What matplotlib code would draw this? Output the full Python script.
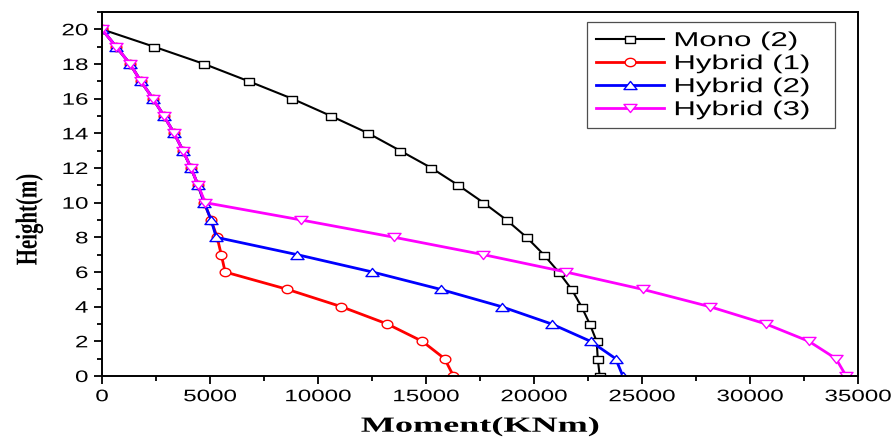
import matplotlib
matplotlib.use("Agg")
import matplotlib.pyplot as plt
import numpy as np
from matplotlib.patheffects import AbstractPathEffect
from matplotlib.path import Path
from matplotlib.ticker import MultipleLocator
from matplotlib.transforms import Affine2D

# ---------------------------------------------------------------------------
# Data
# ---------------------------------------------------------------------------
height = [20, 19, 18, 17, 16, 15, 14, 13, 12, 11, 10, 9, 8, 7, 6, 5, 4, 3, 2, 1, 0]

mono_2 = [0, 2400, 4730, 6800, 8800, 10600, 12330, 13800, 15250, 16500, 17660,
          18730, 19660, 20450, 21140, 21740, 22200, 22580, 22900, 22950, 23040]
hybrid_1 = [0, 650, 1300, 1800, 2360, 2870, 3340, 3750, 4120, 4450, 4730,
            5050, 5330, 5520, 5700, 8580, 11080, 13210, 14830, 15860, 16270]
hybrid_2 = [0, 650, 1300, 1800, 2360, 2870, 3340, 3750, 4120, 4450, 4730,
            5050, 5290, 9040, 12520, 15670, 18500, 20820, 22620, 23780, 24110]
hybrid_3 = [0, 650, 1300, 1800, 2360, 2870, 3340, 3750, 4120, 4450, 4780,
            9230, 13540, 17660, 21470, 25030, 28140, 30740, 32730, 33980, 34450]

labels = ["Mono (2)", "Hybrid (1)", "Hybrid (2)", "Hybrid (3)"]


# ---------------------------------------------------------------------------
# The source picture is stretched sideways: wide text and flat markers.
# ---------------------------------------------------------------------------
class StretchX(AbstractPathEffect):
    """Stretch a text path along screen x about its left/centre/right edge."""

    def __init__(self, sx, anchor="center"):
        super().__init__()
        self.sx = sx
        self.anchor = anchor

    def draw_path(self, renderer, gc, tpath, affine, rgbFace=None):
        ext = tpath.get_extents(affine)
        px = {"left": ext.x0, "right": ext.x1}.get(self.anchor,
                                                   0.5 * (ext.x0 + ext.x1))
        new = affine + Affine2D().translate(-px, 0).scale(self.sx, 1.0) \
                                 .translate(px, 0)
        renderer.draw_path(gc, tpath, new, rgbFace)


def _flat_marker(kind):
    if kind == "s":
        verts = [(-1, -0.7), (1, -0.7), (1, 0.7), (-1, 0.7), (-1, -0.7)]
    elif kind == "o":
        t = np.linspace(0, 2 * np.pi, 41)
        verts = list(zip(np.cos(t), 0.78 * np.sin(t)))
    elif kind == "^":
        verts = [(-1, -0.62), (1, -0.62), (0, 0.62), (-1, -0.62)]
    else:
        verts = [(-1, 0.62), (1, 0.62), (0, -0.62), (-1, 0.62)]
    return Path(verts, closed=True)


series = [
    (mono_2,   "black",   "s", 1.5, 7.2),
    (hybrid_1, "#ff0000", "o", 2.0, 7.7),
    (hybrid_2, "#0000ff", "^", 2.0, 9.4),
    (hybrid_3, "#ff00ff", "v", 2.0, 9.4),
]

plt.rcParams.update({
    "font.family": "Liberation Sans",
    "xtick.direction": "out",
    "ytick.direction": "out",
})

fig = plt.figure(figsize=(8.95, 4.39), dpi=100)
ax = fig.add_axes([0.1140, 0.1412, 0.8447, 0.8292])

for (xs, color, marker, lw, ms), label in zip(series, labels):
    ax.plot(xs, height, color=color, linewidth=lw, marker=_flat_marker(marker),
            markersize=ms, markerfacecolor="white", markeredgecolor=color,
            markeredgewidth=1.0, label=label)

ax.set_xlim(0, 35000)
ax.set_ylim(0, 21)
ax.xaxis.set_major_locator(MultipleLocator(5000))
ax.xaxis.set_minor_locator(MultipleLocator(2500))
ax.yaxis.set_major_locator(MultipleLocator(2))
ax.yaxis.set_minor_locator(MultipleLocator(1))
ax.tick_params(which="both", labelsize=12, width=1.3)
ax.tick_params(which="major", length=6)
ax.tick_params(which="minor", length=3.5)
ax.tick_params(axis="y", which="major", pad=4)
for sp in ax.spines.values():
    sp.set_linewidth(1.4)

xl = ax.set_xlabel("Moment(KNm)", family="Liberation Serif",
                   fontweight="bold", fontsize=15.5, labelpad=9)
yl = ax.set_ylabel("Height(m)", family="Liberation Serif",
                   fontweight="bold", fontsize=15)
ax.yaxis.set_label_coords(-0.083, 0.43)
xl.set_path_effects([StretchX(1.68)])
yl.set_path_effects([StretchX(1.45)])

leg = ax.legend(loc="upper left", bbox_to_anchor=(0.641, 0.703, 0.3285, 0.2695),
                mode="expand", fontsize=14.5, frameon=True, fancybox=False,
                handlelength=3.4, borderpad=0.45, labelspacing=0.2,
                handletextpad=0.5, borderaxespad=0.0)
leg.get_frame().set_edgecolor("#222222")
leg.get_frame().set_linewidth(0.9)
for t in leg.get_texts():
    t.set_path_effects([StretchX(1.55, "left")])

fig.canvas.draw()
for t in ax.get_xticklabels():
    t.set_path_effects([StretchX(1.45)])
for t in ax.get_yticklabels():
    t.set_path_effects([StretchX(1.45, "right")])

fig.savefig("out.png", dpi=100)
